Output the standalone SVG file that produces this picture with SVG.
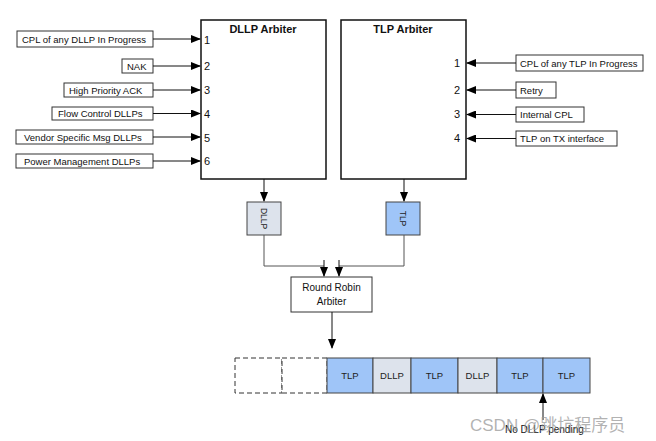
<svg xmlns="http://www.w3.org/2000/svg" width="656" height="441" viewBox="0 0 656 441">
<defs>
<marker id="ah" markerWidth="10" markerHeight="8" refX="9" refY="4" orient="auto" markerUnits="userSpaceOnUse">
<path d="M0,0 L10,4 L0,8 Z" fill="#000"/>
</marker>
<style>
.box{fill:#fff;stroke:#333;stroke-width:1}
.big{fill:#fff;stroke:#111;stroke-width:1.5}
.lbl{font-family:"Liberation Sans",Arial,sans-serif;font-size:9.5px;fill:#111}
.num{font-family:"Liberation Sans",Arial,sans-serif;font-size:11px;fill:#111}
.ttl{font-family:"Liberation Sans",Arial,sans-serif;font-size:11px;font-weight:bold;fill:#111}
.pk{font-family:"Liberation Sans",Arial,sans-serif;font-size:9.5px;fill:#222;text-anchor:middle}
.c{stroke:#111;stroke-width:1;fill:none}
.g{stroke:#555;stroke-width:1;fill:none}
.tlp{fill:#9fc5f8;stroke:#444;stroke-width:1}
.dllp{fill:#dde3ec;stroke:#444;stroke-width:1}
.dash{fill:#fff;stroke:#333;stroke-width:1;stroke-dasharray:5,3}
</style>
</defs>

<g id="dllp-arbiter">
<rect class="big" x="201" y="20" width="125" height="159"/>
<text class="ttl" x="263" y="33" text-anchor="middle">DLLP Arbiter</text>
<text class="num" x="204" y="44">1</text>
<text class="num" x="204" y="70">2</text>
<text class="num" x="204" y="94">3</text>
<text class="num" x="204" y="118">4</text>
<text class="num" x="204" y="142">5</text>
<text class="num" x="204" y="165">6</text>
</g>

<g id="tlp-arbiter">
<rect class="big" x="341" y="20" width="125" height="159"/>
<text class="ttl" x="403" y="33" text-anchor="middle">TLP Arbiter</text>
<text class="num" x="460" y="67" text-anchor="end">1</text>
<text class="num" x="460" y="94" text-anchor="end">2</text>
<text class="num" x="460" y="118" text-anchor="end">3</text>
<text class="num" x="460" y="142" text-anchor="end">4</text>
</g>

<g id="in-cpl-dllp"><rect class="box" x="17" y="31" width="136" height="16"/><text class="lbl" x="22" y="42.5">CPL of any DLLP In Progress</text></g>
<g id="in-nak"><rect class="box" x="122" y="59" width="31" height="14"/><text class="lbl" x="127" y="69.5">NAK</text></g>
<g id="in-hpack"><rect class="box" x="64" y="83" width="89" height="14"/><text class="lbl" x="69" y="93.5">High Priority ACK</text></g>
<g id="in-fc"><rect class="box" x="52" y="107" width="101" height="13"/><text class="lbl" x="58" y="117">Flow Control DLLPs</text></g>
<g id="in-vs"><rect class="box" x="16" y="130" width="137" height="14"/><text class="lbl" x="24" y="140.5">Vendor Specific Msg DLLPs</text></g>
<g id="in-pm"><rect class="box" x="16" y="154" width="137" height="14"/><text class="lbl" x="24" y="164.5">Power Management DLLPs</text></g>

<g id="in-cpl-tlp"><rect class="box" x="516" y="55" width="127" height="16"/><text class="lbl" x="520" y="66.5">CPL of any TLP In Progress</text></g>
<g id="in-retry"><rect class="box" x="516" y="82" width="40" height="16"/><text class="lbl" x="520" y="93.5">Retry</text></g>
<g id="in-icpl"><rect class="box" x="516" y="107" width="68" height="15"/><text class="lbl" x="520" y="118">Internal CPL</text></g>
<g id="in-tlptx"><rect class="box" x="516" y="131" width="101" height="15"/><text class="lbl" x="520" y="142">TLP on TX interface</text></g>

<g id="dllp-q"><rect class="dllp" x="247" y="202" width="34" height="33"/><text class="pk" transform="translate(264,218.5) rotate(90)" y="3.5" style="font-size:8.5px">DLLP</text></g>
<g id="tlp-q"><rect class="tlp" x="386" y="202" width="34" height="33"/><text class="pk" transform="translate(403,218.5) rotate(90)" y="3.5" style="font-size:8.5px">TLP</text></g>

<g id="rr"><rect class="box" x="291" y="277" width="81" height="35"/><text class="pk" x="331.5" y="291" style="font-size:10px;fill:#111">Round Robin</text><text class="pk" x="331.5" y="305" style="font-size:10px;fill:#111">Arbiter</text></g>

<g id="packets">
<rect class="dash" x="235" y="358" width="47" height="35"/>
<rect class="dash" x="282" y="358" width="45" height="35"/>
<rect class="tlp" x="327" y="358" width="46" height="35"/><text class="pk" x="350" y="379">TLP</text>
<rect class="dllp" x="373" y="358" width="38" height="35"/><text class="pk" x="392" y="379">DLLP</text>
<rect class="tlp" x="411" y="358" width="47" height="35"/><text class="pk" x="434.5" y="379">TLP</text>
<rect class="dllp" x="458" y="358" width="39" height="35"/><text class="pk" x="477.5" y="379">DLLP</text>
<rect class="tlp" x="497" y="358" width="46" height="35"/><text class="pk" x="520" y="379">TLP</text>
<rect class="tlp" x="543" y="358" width="47" height="35"/><text class="pk" x="566.5" y="379">TLP</text>
</g>

<g id="connectors">
<line class="c" x1="153" y1="39" x2="200" y2="39" marker-end="url(#ah)"/>
<line class="c" x1="153" y1="66" x2="200" y2="66" marker-end="url(#ah)"/>
<line class="c" x1="153" y1="90" x2="200" y2="90" marker-end="url(#ah)"/>
<line class="c" x1="153" y1="113.5" x2="200" y2="113.5" marker-end="url(#ah)"/>
<line class="c" x1="153" y1="137" x2="200" y2="137" marker-end="url(#ah)"/>
<line class="c" x1="153" y1="161" x2="200" y2="161" marker-end="url(#ah)"/>
<line class="c" x1="516" y1="63" x2="467" y2="63" marker-end="url(#ah)"/>
<line class="c" x1="516" y1="90" x2="467" y2="90" marker-end="url(#ah)"/>
<line class="c" x1="516" y1="114.5" x2="467" y2="114.5" marker-end="url(#ah)"/>
<line class="c" x1="516" y1="138.5" x2="467" y2="138.5" marker-end="url(#ah)"/>
<line class="c" x1="264" y1="179" x2="264" y2="201" marker-end="url(#ah)"/>
<line class="c" x1="404" y1="179" x2="404" y2="201" marker-end="url(#ah)"/>
<polyline class="g" points="264,235 264,266 324,266"/>
<polyline class="g" points="404,235 404,266 339,266"/>
<line class="c" x1="324" y1="260" x2="324" y2="276" marker-end="url(#ah)"/>
<line class="c" x1="339" y1="260" x2="339" y2="276" marker-end="url(#ah)"/>
<line class="c" x1="332" y1="312" x2="332" y2="348" marker-end="url(#ah)"/>
<line class="c" x1="543" y1="420" x2="543" y2="394" marker-end="url(#ah)"/>
</g>

<text class="lbl" x="505" y="433" style="font-size:10px">No DLLP pending</text>
<text x="470" y="431" style="font-family:'Liberation Sans','Noto Sans CJK SC',sans-serif;font-size:17px;fill:#999;fill-opacity:0.75">CSDN @跳坑程序员</text>
</svg>
